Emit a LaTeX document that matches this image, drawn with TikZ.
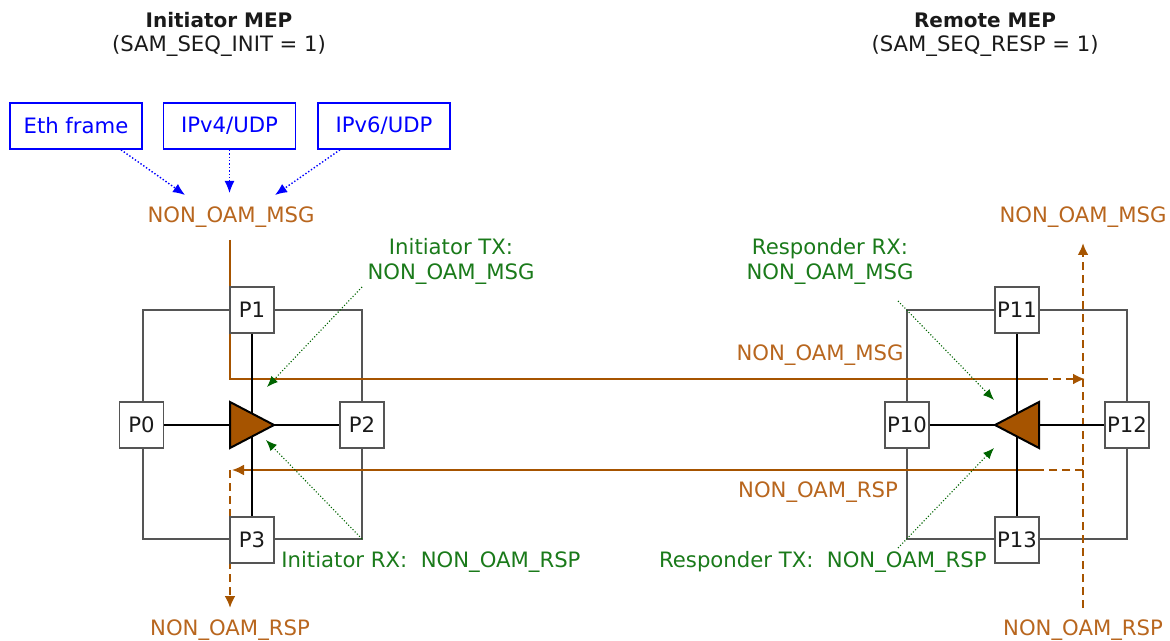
\documentclass[tikz,border=0pt]{standalone}
\usepackage{fontspec}
\setmainfont{DejaVu Sans}
\usetikzlibrary{arrows.meta}
\definecolor{brn}{HTML}{A65400}
\definecolor{brntext}{HTML}{B8661E}
\definecolor{grn}{HTML}{1A7A1A}
\definecolor{darkgrn}{HTML}{006400}
\definecolor{blu}{HTML}{0000FF}
\definecolor{gry}{HTML}{555555}
\definecolor{txt}{HTML}{1A1A1A}
\begin{document}
\begin{tikzpicture}[x=0.5pt,y=-0.5pt, font=\fontsize{10.6}{12.5}\selectfont,
 port/.style={draw=gry, fill=white, text=txt, line width=0.6pt, minimum width=22pt, minimum height=23pt, inner sep=0pt},
 src/.style={draw=blu, fill=white, line width=0.8pt, text=blu, minimum width=66pt, minimum height=23pt, inner sep=0pt},
 lbl/.style={text=brntext, inner sep=1pt},
 note/.style={text=grn, align=center, inner sep=1pt},
 title/.style={text=txt, inner sep=1pt},
 bluearr/.style={blu, densely dotted, line width=0.7pt, -{Latex[length=6pt,width=5pt]}},
 grnarr/.style={darkgrn, densely dotted, line width=0.55pt, -{Latex[length=5.5pt,width=4.5pt]}},
 flow/.style={brn, line width=1pt},
 flowdash/.style={brn, line width=1.4pt, dash pattern=on 4pt off 2.5pt},
 ftip/.style={-{Latex[length=6pt,width=5.5pt]}},
 frame/.style={draw=gry, line width=0.6pt},
 bus/.style={draw=black, line width=1pt},
 tri/.style={draw=black, fill=brn, line width=1pt, line join=miter}]
\useasboundingbox (0,0) rectangle (1170,641);

% titles
\node[title, font=\fontsize{10}{12}\bfseries] (tL) at (219,20) {Initiator MEP};
\node[title] (tL2) at (219,46) {(SAM\_SEQ\_INIT = 1)};
\node[title, font=\fontsize{10}{12}\bfseries] (tR) at (985,20) {Remote MEP};
\node[title] (tR2) at (985,46) {(SAM\_SEQ\_RESP = 1)};

% source boxes
\node[src] (eth) at (76,126) {Eth frame};
\node[src] (ip4) at (229.5,126) {IPv4/UDP};
\node[src] (ip6) at (384,126) {IPv6/UDP};
\node[lbl] (msgL) at (231,217) {NON\_OAM\_MSG};
\coordinate (b1) at (185,195);
\coordinate (b2) at (229.5,193);
\coordinate (b3) at (275,195);
\draw[bluearr] ([xshift=22.5pt]eth.south) -- (b1);
\draw[bluearr] (ip4.south) -- (b2);
\draw[bluearr] ([xshift=-22pt]ip6.south) -- (b3);

% frames
\draw[frame] (143,310) rectangle (362,539);
\draw[frame] (907,310) rectangle (1127,539);

% orange flows
\coordinate (m0) at (230,240);
\coordinate (m2) at (1040,379);
\coordinate (m3) at (1085,379);
\draw[flow] (m0) |- (m2);
\draw[flowdash, ftip] (m2) -- (m3);
\coordinate (r0) at (1083,470);
\coordinate (r1) at (1040,470);
\coordinate (r2) at (232,470);
\coordinate (r3) at (230,470);
\coordinate (r4) at (230,608);
\draw[flowdash] (r0) -- (r1);
\draw[flow, ftip] (r1) -- (r2);
\draw[flowdash, ftip] (r3) -- (r4);
\coordinate (v0) at (1083,608);
\coordinate (v1) at (1083,243);
\draw[flowdash, ftip] (v0) -- (v1);

% left switch
\node[port] (p1) at (252,310) {P1};
\node[port] (p0) at (141.5,425) {P0};
\node[port] (p2) at (362,425) {P2};
\node[port] (p3) at (252,540) {P3};
\draw[bus] (p1.south) -- (p3.north);
\draw[bus] (p0.east) -- (p2.west);
\draw[tri] (230,402) -- (274,425) -- (230,448) -- cycle;

% right switch
\node[port] (p11) at (1017,310) {P11};
\node[port] (p10) at (907,425) {P10};
\node[port] (p12) at (1127,425) {P12};
\node[port] (p13) at (1017,540) {P13};
\draw[bus] (p11.south) -- (p13.north);
\draw[bus] (p10.east) -- (p12.west);
\draw[tri] (1039,402) -- (995,425) -- (1039,448) -- cycle;

% orange labels
\node[lbl] (msgR) at (1083,217) {NON\_OAM\_MSG};
\node[lbl] (msgM) at (820,355) {NON\_OAM\_MSG};
\node[lbl] (rspM) at (818,492) {NON\_OAM\_RSP};
\node[lbl] (rspL) at (230,630) {NON\_OAM\_RSP};
\node[lbl] (rspR) at (1083,630) {NON\_OAM\_RSP};

% green notes
\node[note] (itx) at (451,261) {Initiator TX:\\NON\_OAM\_MSG};
\node[note, anchor=west] (irx) at (279,562) {Initiator RX:\ \ NON\_OAM\_RSP};
\node[note] (rrx) at (830,261) {Responder RX:\\NON\_OAM\_MSG};
\node[note, anchor=east] (rtx) at (989,562) {Responder TX:\ \ NON\_OAM\_RSP};
\coordinate (g1s) at (362,287); \coordinate (g1e) at (267,387);
\coordinate (g2s) at (362,539); \coordinate (g2e) at (266,440);
\coordinate (g3s) at (898,301); \coordinate (g3e) at (994,400);
\coordinate (g4s) at (898,548); \coordinate (g4e) at (994,448);
\draw[grnarr] (g1s) -- (g1e);
\draw[grnarr] (g2s) -- (g2e);
\draw[grnarr] (g3s) -- (g3e);
\draw[grnarr] (g4s) -- (g4e);
\end{tikzpicture}
\end{document}
